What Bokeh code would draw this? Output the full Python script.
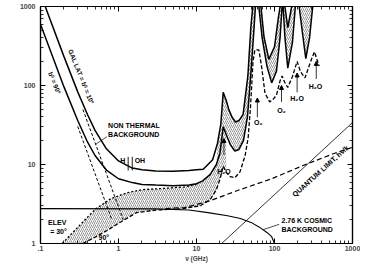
import numpy as np
from bokeh.plotting import figure
from bokeh.models import FixedTicker, LogAxis, Arrow, NormalHead, Range1d, ColumnDataSource, Label
from bokeh.core.properties import value
from bokeh.embed import file_html
from bokeh.resources import INLINE

# ---------------- data (frequency in GHz, temperature in K) ----------------
x_ticks = [0.1, 1, 10, 100, 1000]
x_tick_labels = [".1", "1", "10", "100", "1000"]
y_ticks = [1, 10, 100, 1000]
y_tick_labels = ["1", "10", "100", "1000"]
minor_mult = [2, 3, 4, 5, 6, 7, 8, 9]

# upper solid curve (gal lat 10 deg)
nu_u = [0.115, 0.2, 0.3, 0.4, 0.5, 0.7, 1.0, 1.5, 2, 3, 5, 8, 10, 12.2, 16.1, 18.6, 20.5, 22, 24, 26,
        28.5, 31.6, 35, 39.6, 45.6, 49.7, 52.7, 60, 67, 73.5, 84.6, 100, 112, 118, 127, 136, 148, 166, 250, 400]
t_u = [1000, 232, 83, 43, 27, 15.8, 11.1, 9.0, 8.6, 8.3, 8.2, 8.4, 8.6, 8.7, 11.5, 18.6, 32.5, 82, 65, 49.5,
       40, 34.5, 36, 43, 133, 540, 1000, 5000, 1000, 408, 214, 308, 718, 1000, 5000, 1000, 540, 1000, 5000, 5000]

# lower solid curve (gal lat 90 deg)
nu_l = [0.1, 0.2, 0.3, 0.4, 0.5, 0.7, 1.0, 1.5, 2, 3, 5, 8, 10, 12, 15, 18, 20, 22, 24, 27,
        31, 35, 40, 45, 50, 54, 57, 60, 63, 69.3, 80, 92, 106, 118, 125, 127, 129, 136, 148, 170,
        185, 195, 207, 232, 252, 282, 309, 330]
t_l = [595, 96, 36, 19.3, 13, 8.5, 6.6, 5.9, 5.6, 5.5, 5.4, 5.5, 5.7, 6.2, 7.5, 10, 14, 30, 24, 18,
       14.8, 15.5, 20, 40, 150, 450, 1000, 5000, 1000, 408, 176, 108, 152, 408, 1000, 5000, 1000, 408, 166, 353,
       1000, 5000, 1000, 408, 219, 408, 1000, 5000]

# atmosphere, elevation 30 deg (upper edge of the low band)
nu_e30 = [0.19, 0.3, 0.5, 0.8, 1.3, 2, 4, 7, 10]
t_e30 = [1.0, 1.6, 2.7, 3.7, 4.4, 4.8, 5.0, 5.2, 5.6]

# atmosphere, elevation 90 deg (dashed)
nu_e90 = [0.35, 0.5, 0.73, 1.0, 1.7, 3, 6.4, 11.2, 15, 18, 20, 22, 24, 27, 31, 36, 42, 46, 49, 51,
          53, 56, 63, 68, 75.5, 86.7, 95, 106, 118, 125, 135, 148, 170, 195, 215, 246, 290, 325, 374]
t_e90 = [1.0, 1.2, 1.48, 1.8, 2.46, 2.65, 2.75, 3.0, 3.6, 4.8, 6.5, 9.5, 8, 7, 6.8, 8, 13, 22, 50, 100,
         200, 282, 282, 180, 80, 62, 66, 75.5, 115, 132, 110, 94.5, 130, 202, 150, 125, 200, 267, 176]

# non-thermal galactic background (dashed continuations)
nu_gu = [0.35, 1.15]
t_gu = [49.6, 2.0]
nu_gl = [0.3, 0.822]
t_gl = [30.4, 2.0]

# ideal total (dashed, right)
nu_d = [4, 7, 14, 36, 92, 232, 603, 1000]
t_d = [2.76, 2.85, 3.4, 4.8, 6.6, 9.7, 14, 16.5]

# 2.76 K cosmic background
nu_c = [0.1, 3, 8, 14, 25, 36.5, 50, 64, 80, 92, 100]
t_c = [2.76, 2.74, 2.65, 2.46, 2.25, 2.07, 1.85, 1.61, 1.38, 1.22, 1.0]

# quantum limit h nu / k
nu_q = [21, 1000]
t_q = [1.0, 34]

# H and OH lines
line_nu = [1.33, 1.5]
line_t0 = [8.4, 8.4]
line_t1 = [12.5, 12.5]

# molecular line arrows
arrow_nu = [22.5, 60.3, 123, 195, 343]
arrow_t0 = [13.2, 39.7, 62, 82, 121]
arrow_t1 = [21.3, 69.5, 100, 144, 202]
arrow_labels = ["H\u2082O", "O\u2082", "O\u2082", "H\u2082O", "H\u2082O"]
label_nu = [22.5, 62, 123, 195, 335]
label_t = [9.0, 37.4, 53.9, 75.5, 108.6]

FONT = "Liberation Sans"

# ---------------- figure ----------------
p = figure(width=360, height=264, x_axis_type="log", y_axis_type="log",
           x_range=Range1d(0.1, 1000), y_range=Range1d(1, 1000),
           output_backend="svg", toolbar_location=None,
           min_border_left=40, min_border_right=8, min_border_top=6, min_border_bottom=20)
p.xgrid.visible = False
p.ygrid.visible = False
p.outline_line_color = "black"
p.outline_line_width = 1.2
p.background_fill_color = "white"
p.border_fill_color = "white"

x_minor = [m * d for d in [0.1, 1, 10, 100] for m in minor_mult]
y_minor = [m * d for d in [1, 10, 100] for m in minor_mult]


def style_axis(ax, ticks, minor, labels, show):
    ax.ticker = FixedTicker(ticks=ticks, minor_ticks=minor)
    ax.major_tick_in = 5
    ax.major_tick_out = 0
    ax.minor_tick_in = 3
    ax.minor_tick_out = 0
    ax.axis_line_width = 1.2
    ax.major_tick_line_width = 1
    ax.minor_tick_line_width = 0.8
    if show:
        ax.major_label_overrides = {t: l for t, l in zip(ticks, labels)}
        ax.major_label_text_font = FONT
        ax.major_label_text_font_size = "7px"
        ax.major_label_text_font_style = "bold"
    else:
        ax.major_label_overrides = {t: "" for t in ticks}
        ax.major_label_text_font_size = "0px"
        ax.major_label_standoff = 0


style_axis(p.xaxis[0], x_ticks, x_minor, x_tick_labels, True)
p.xaxis[0].major_label_standoff = 2
p.xaxis[0].axis_label = "\u03bd (GHz)"
p.xaxis[0].axis_label_text_font = FONT
p.xaxis[0].axis_label_text_font_size = "6.5px"
p.xaxis[0].axis_label_text_font_style = "bold"
p.xaxis[0].axis_label_standoff = 1
style_axis(p.yaxis[0], y_ticks, y_minor, y_tick_labels, True)
p.yaxis[0].major_label_standoff = 5

top_ax = LogAxis()
style_axis(top_ax, x_ticks, x_minor, x_tick_labels, False)
p.add_layout(top_ax, "above")
right_ax = LogAxis()
style_axis(right_ax, y_ticks, y_minor, y_tick_labels, False)
p.add_layout(right_ax, "right")

# y axis title
p.add_layout(Label(x=0.041, y=36.3, text="DEGREES KELVIN", angle=90, angle_units="deg",
                   text_align="center", text_baseline="middle",
                   text_font=FONT, text_font_size="7.5px", text_font_style="bold"))

# ---------------- hatched regions ----------------
nu_l_a, t_l_a = np.array(nu_l), np.array(t_l)
nu_u_a, t_u_a = np.array(nu_u), np.array(t_u)
nu_e90_a, t_e90_a = np.array(nu_e90), np.array(t_e90)

m1 = (nu_l_a > 10) & (nu_l_a <= 24)
m2 = nu_e90_a <= 24
band1_x = list(nu_e30) + list(nu_l_a[m1]) + list(nu_e90_a[m2][::-1])
band1_y = list(t_e30) + list(t_l_a[m1]) + list(t_e90_a[m2][::-1])

m3 = nu_l_a >= 18
m4 = nu_u_a >= 18.6
band2_x = list(nu_l_a[m3]) + list(nu_u_a[m4][::-1])
band2_y = list(t_l_a[m3]) + list(t_u_a[m4][::-1])

for bx, by in [(band1_x, band1_y), (band2_x, band2_y)]:
    p.patch(bx, by, fill_alpha=0, line_alpha=0, hatch_pattern="/", hatch_color="black",
            hatch_alpha=0.6, hatch_scale=4, hatch_weight=0.7)

# ---------------- curves ----------------
p.line(nu_u, t_u, line_color="black", line_width=1.5)
p.line(nu_l, t_l, line_color="black", line_width=1.5)
p.line(nu_e30, t_e30, line_color="black", line_width=1.3, line_dash="2 2")
p.line(nu_e90, t_e90, line_color="black", line_width=1.3, line_dash="4 2")
p.line(nu_gu, t_gu, line_color="black", line_width=1.0, line_dash="3 2")
p.line(nu_gl, t_gl, line_color="black", line_width=1.0, line_dash="3 2")
p.line(nu_d, t_d, line_color="black", line_width=1.2, line_dash="5 3")
p.line(nu_c, t_c, line_color="black", line_width=1.1)
p.line(nu_q, t_q, line_color="black", line_width=0.8)
p.segment(x0=line_nu, y0=line_t0, x1=line_nu, y1=line_t1, line_color="black", line_width=0.9)

# leader lines
p.line([0.71, 0.51], [22.5, 18], line_color="black", line_width=0.7)
p.line([115, 72], [1.75, 1.5], line_color="black", line_width=0.7)

# arrows
asrc = ColumnDataSource(dict(x0=arrow_nu, y0=arrow_t0, x1=arrow_nu, y1=arrow_t1))
p.add_layout(Arrow(source=asrc, x_start="x0", y_start="y0", x_end="x1", y_end="y1",
                   line_width=0.8, line_color="black",
                   end=NormalHead(size=4, fill_color="black", line_color="black")))


def tkw(size):
    return dict(text_font=value(FONT), text_font_size=size, text_color="black",
                text_font_style="bold")


p.text(x=label_nu, y=label_t, text=arrow_labels, text_align="center", text_baseline="top", **tkw("7px"))

p.text(x=[0.735, 0.735], y=[31.6, 23.9], text=["NON THERMAL", "BACKGROUND"],
       text_align="left", text_baseline="middle", **tkw("7px"))
p.text(x=[1.218], y=[11.2], text=["H"], text_align="right", text_baseline="middle", **tkw("7px"))
p.text(x=[1.61], y=[11.2], text=["OH"], text_align="left", text_baseline="middle", **tkw("7px"))
p.text(x=[0.125, 0.133], y=[1.85, 1.42], text=["ELEV", "= 30\u00b0"],
       text_align="left", text_baseline="middle", **tkw("7px"))
p.text(x=[0.555], y=[1.18], text=["90\u00b0"], text_align="left", text_baseline="middle", **tkw("7px"))
p.text(x=[123, 123], y=[1.96, 1.52], text=["2.76 K COSMIC", "BACKGROUND"],
       text_align="left", text_baseline="middle", **tkw("7px"))
p.text(x=[0.334], y=[129], text=["GAL LAT = b\u1d35\u1d35 = 10\u00b0"], angle=-68, angle_units="deg",
       text_align="center", text_baseline="middle", **tkw("6.5px"))
p.text(x=[0.152], y=[108], text=["b\u1d35\u1d35 = 90\u00b0"], angle=-68, angle_units="deg",
       text_align="center", text_baseline="middle", **tkw("6.5px"))
p.text(x=[390], y=[8.3], text=["QUANTUM LIMIT, h\u03bd/k"], angle=42, angle_units="deg",
       text_align="center", text_baseline="middle", **tkw("7px"))

open("out.html", "w").write(file_html(p, INLINE))
